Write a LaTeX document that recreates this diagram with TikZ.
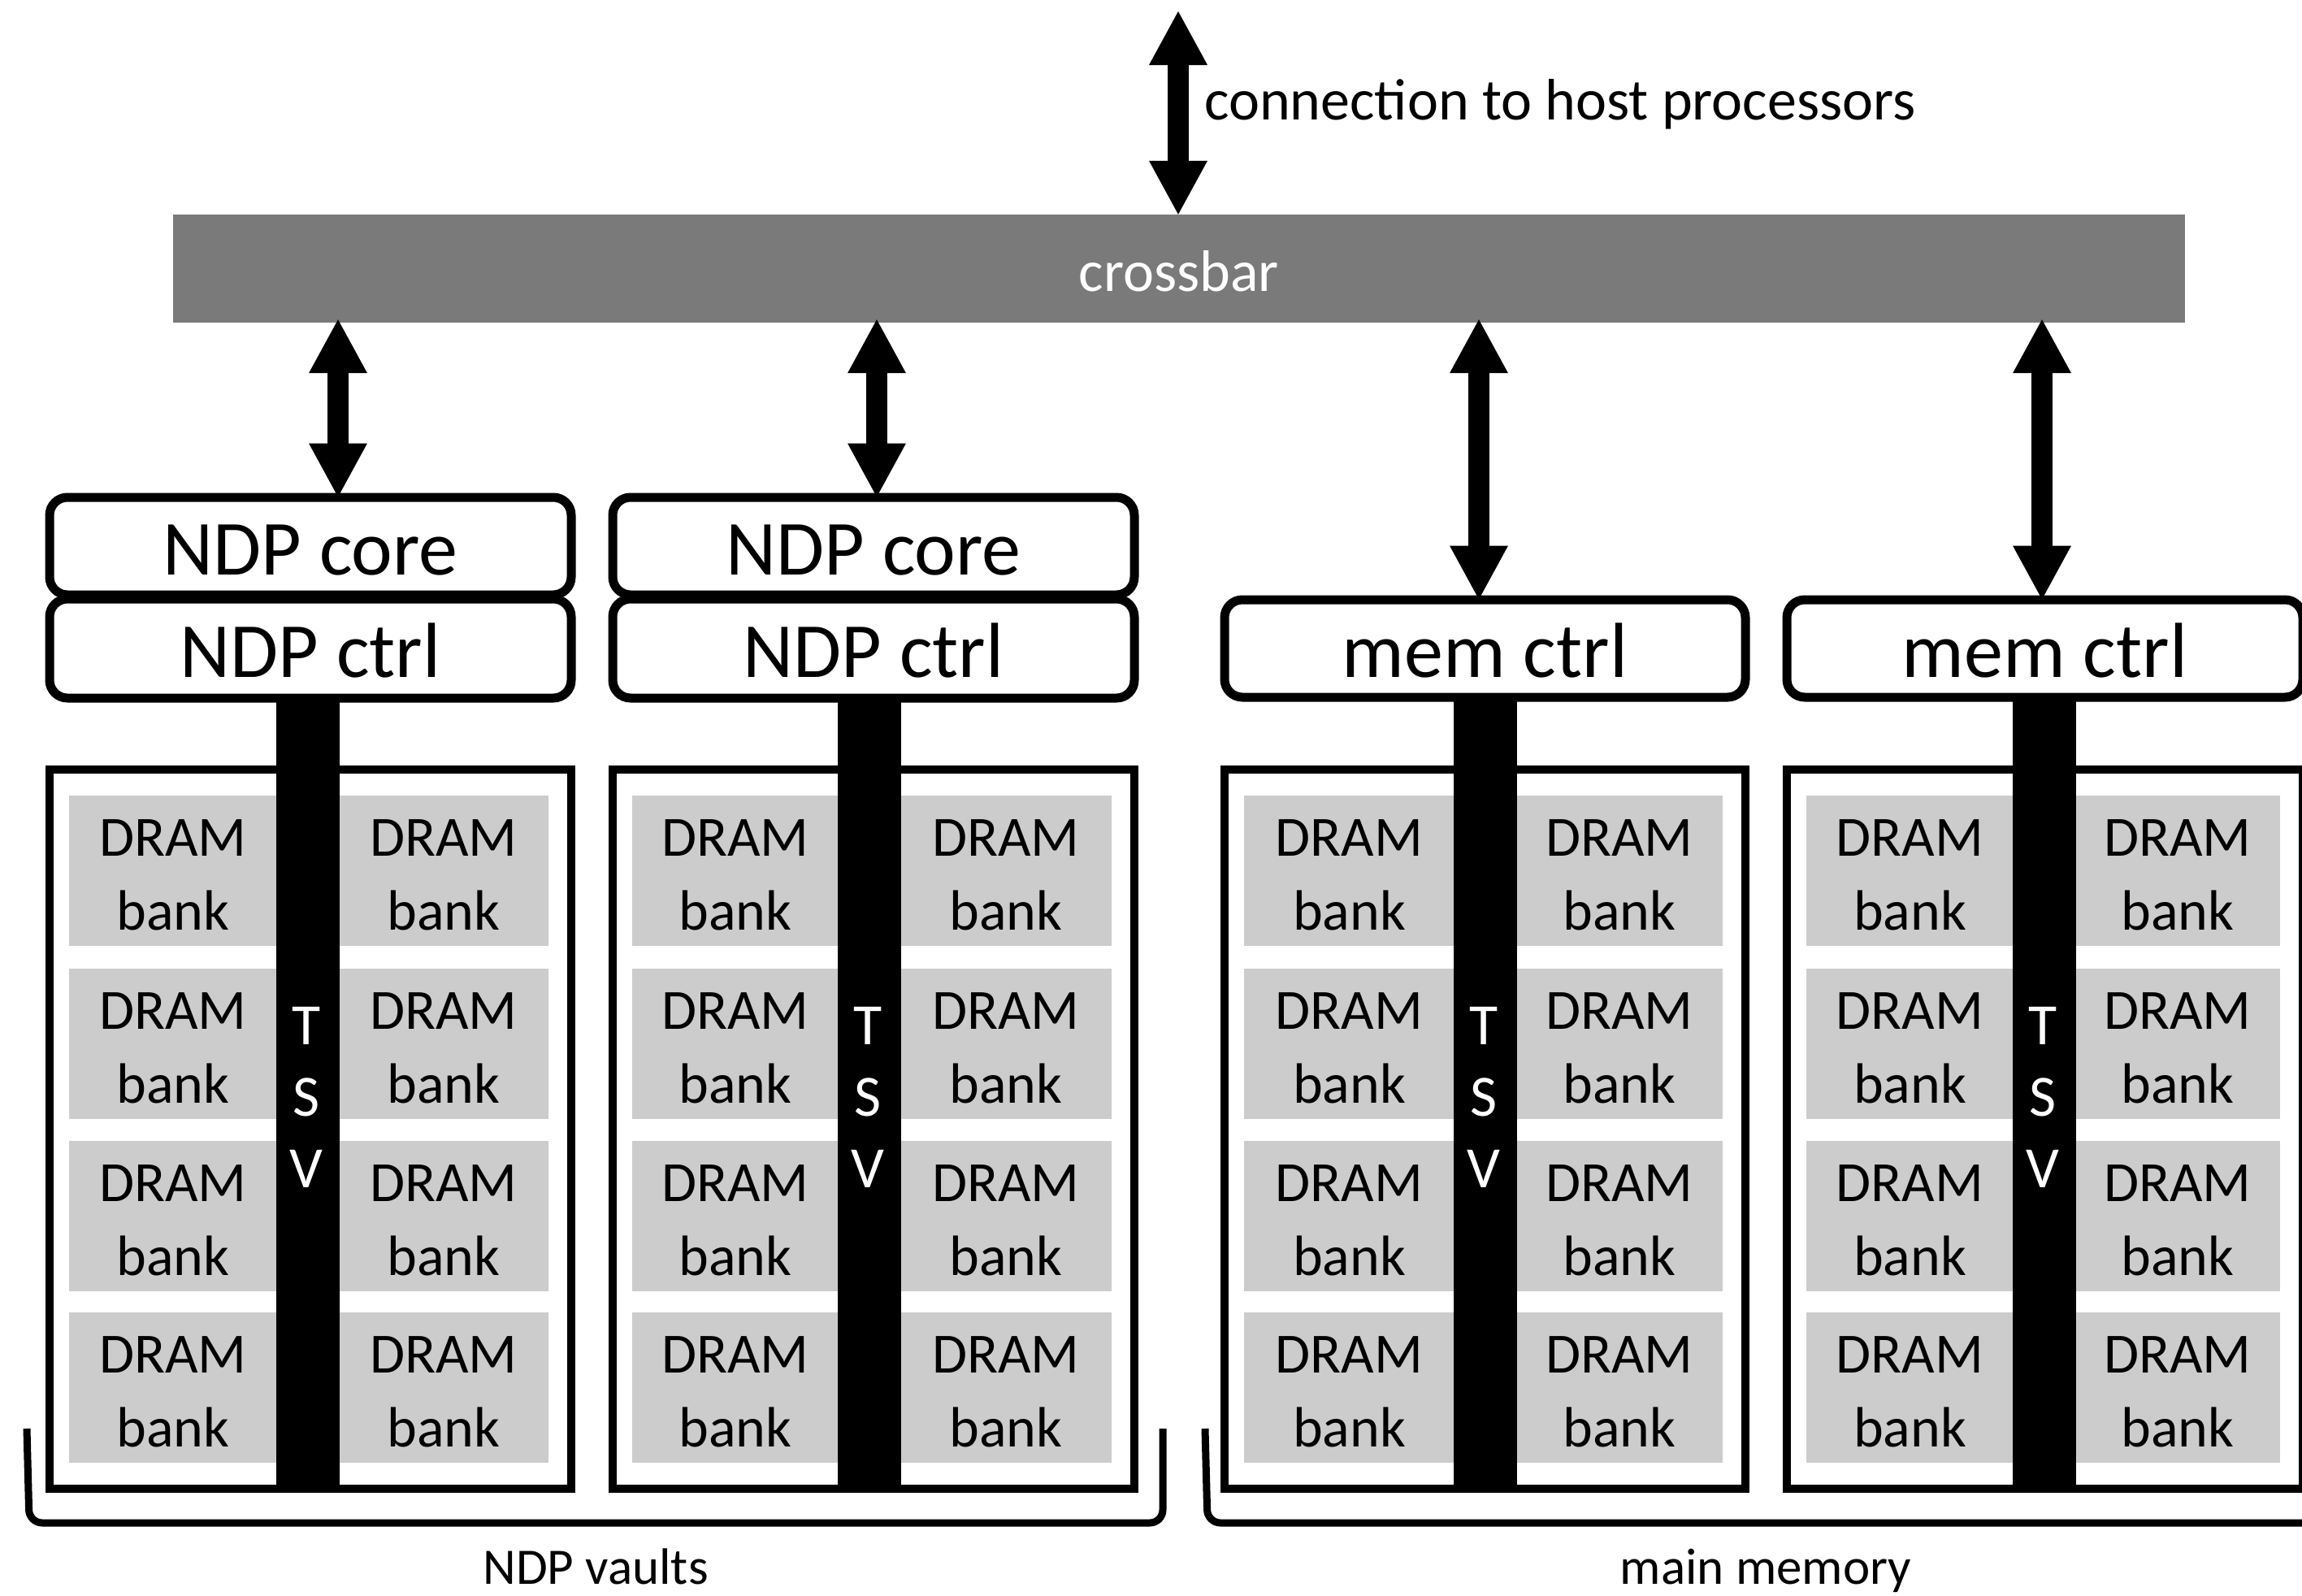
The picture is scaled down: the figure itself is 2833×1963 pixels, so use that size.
\documentclass[tikz,border=0pt]{standalone}
\usepackage{fontspec}
\setmainfont{Carlito}
\usetikzlibrary{arrows.meta}
\definecolor{xbargray}{RGB}{122,122,122}
\definecolor{bankgray}{RGB}{204,204,204}
\begin{document}
\begin{tikzpicture}[x=1pt,y=-1pt,
  box/.style={draw, line width=11pt, rounded corners=22pt, fill=white, inner sep=0pt,
    minimum height=120pt, text height=70pt, text depth=0pt,
    font=\fontsize{96pt}{110pt}\selectfont},
  vault/.style={draw, line width=10pt, inner sep=0pt, minimum height=885pt},
  bank/.style={fill=bankgray, inner sep=0pt, minimum height=185pt, align=center,
    text height=145pt, text depth=0pt, font=\fontsize{70pt}{91pt}\selectfont},
  tsvbar/.style={fill=black, inner sep=0pt, minimum width=78pt, minimum height=973pt},
  tsvletter/.style={text=white, inner sep=0pt, anchor=base,
    font=\fontsize{72pt}{86pt}\selectfont},
  bigarrow/.style={line width=26pt,
    {Triangle[width=72pt,length=66pt,line width=0pt]}-{Triangle[width=72pt,length=66pt,line width=0pt]}},
  bracketline/.style={line width=9pt, rounded corners=16pt},
  caption/.style={inner sep=0pt, anchor=base, font=\fontsize{63pt}{75pt}\selectfont},
]
\useasboundingbox (0,0) rectangle (2833,1963);

% crossbar and host connection
\node[fill=xbargray, inner sep=0pt, minimum width=2476pt, minimum height=133pt,
  text=white, text height=56pt, text depth=0pt,
  font=\fontsize{72pt}{86pt}\selectfont] (crossbar) at (1451,330.5) {crossbar};
\coordinate (host) at (1450,14);
\draw[bigarrow] (host) -- (host |- crossbar.north);
\node[anchor=base west, inner sep=0pt, font=\fontsize{72pt}{86pt}\selectfont]
  (hostlabel) at (1482,147) {connection to host processors};

% vaults, banks, TSVs
\foreach \i/\L/\R/\T in {1/61/703/379, 2/754/1396/1070, 3/1507/2148/1828, 4/2199/2834/2516}{
  \pgfmathsetmacro{\cx}{(\L+\R)/2}
  \pgfmathsetmacro{\w}{\R-\L}
  \node[vault, minimum width=\w pt] (vault\i) at (\cx,1389.5) {};
  \pgfmathsetmacro{\lbx}{(\L+24+\T-38)/2}
  \pgfmathsetmacro{\lbw}{\T-38-\L-24}
  \pgfmathsetmacro{\rbx}{(\T+38+\R-28)/2}
  \pgfmathsetmacro{\rbw}{\R-28-\T-38}
  \foreach \r/\yc in {1/1071.5,2/1284.5,3/1496.5,4/1707.5}{
    \node[bank, minimum width=\lbw pt] (bank\i-\r-l) at (\lbx,\yc) {DRAM\\bank};
    \node[bank, minimum width=\rbw pt] (bank\i-\r-r) at (\rbx,\yc) {DRAM\\bank};
  }
  \node[tsvbar] (tsv\i) at (\T,1345.5) {};
  \node[tsvletter] (tsvT\i) at (\T-2,1285) {T};
  \node[tsvletter] (tsvS\i) at (\T-2,1373) {S};
  \node[tsvletter] (tsvV\i) at (\T-2,1461) {V};
}

% controller boxes
\node[box, minimum width=642pt] (core1) at (382,672) {NDP core};
\node[box, minimum width=642pt, minimum height=122pt] (ctrl1) at (382,798) {NDP ctrl};
\node[box, minimum width=642pt] (core2) at (1075,672) {NDP core};
\node[box, minimum width=642pt, minimum height=122pt] (ctrl2) at (1075,798) {NDP ctrl};
\node[box, minimum width=641pt] (mem1) at (1827.5,798) {mem ctrl};
\node[box, minimum width=635pt] (mem2) at (2516.5,798) {mem ctrl};

% arrows from crossbar
\coordinate (a1) at (416,0);
\coordinate (a2) at (1079,0);
\coordinate (a3) at (1820,0);
\coordinate (a4) at (2513,0);
\draw[bigarrow, shorten <=-4pt, shorten >=-5pt] (crossbar.south -| a1) -- (core1.north -| a1);
\draw[bigarrow, shorten <=-4pt, shorten >=-5pt] (crossbar.south -| a2) -- (core2.north -| a2);
\draw[bigarrow, shorten <=-4pt, shorten >=-5pt] (crossbar.south -| a3) -- (mem1.north -| a3);
\draw[bigarrow, shorten <=-4pt, shorten >=-5pt] (crossbar.south -| a4) -- (mem2.north -| a4);

% brackets and captions
\draw[bracketline] (33,1758) -- (36,1874) -- (1431,1874) -- (1431,1758);
\draw[bracketline] (1483,1758) -- (1486,1874) -- (2870,1874);
\node[caption] (ndplabel) at (733,1949) {NDP vaults};
\node[caption] (memlabel) at (2173,1949) {main memory};
\end{tikzpicture}
\end{document}
